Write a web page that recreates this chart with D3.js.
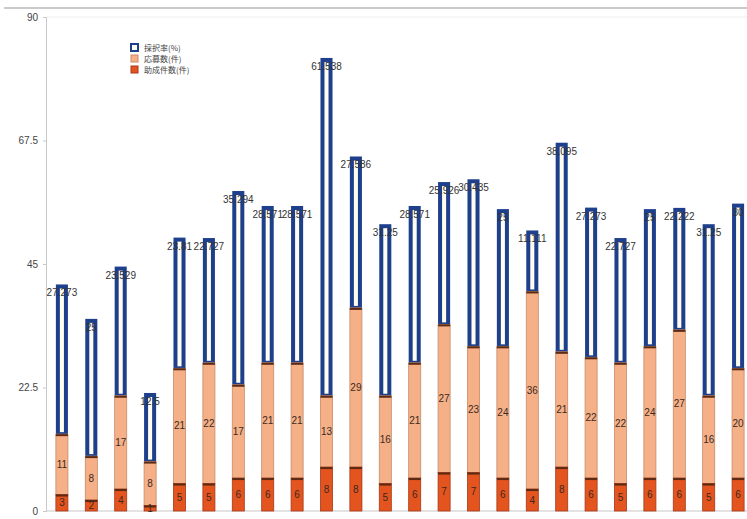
<!DOCTYPE html>
<html>
<head>
<meta charset="utf-8">
<script src="https://cdn.jsdelivr.net/npm/d3@7"></script>
<style>
  html, body { margin: 0; padding: 0; background: #fff; overflow: hidden; }
  svg { display: block; font-family: "Liberation Sans", Arial, sans-serif; }
  .jp { font-family: "Noto Sans CJK JP", sans-serif; }
</style>
</head>
<body>
<div id="chart"></div>
<script>
(function() {
  var width = 747;
  var height = 519;

  // Data
  var years = ['1996', '1997', '1998', '1999', '2000', '2001', '2002', '2003', '2004', '2005', '2006', '2007',
    '2008', '2009', '2010', '2011', '2012', '2013', '2014', '2015', '2016', '2017', '2018', '2019'];
  var grants = [3, 2, 4, 1, 5, 5, 6, 6, 6, 8, 8, 5, 6, 7, 7, 6, 4, 8, 6, 5, 6, 6, 5, 6];          // 助成件数(件)
  var applications = [11, 8, 17, 8, 21, 22, 17, 21, 21, 13, 29, 16, 21, 27, 23, 24, 36, 21, 22, 22, 24, 27, 16, 20]; // 応募数(件)
  var rates = [27.273, 25, 23.529, 12.5, 23.81, 22.727, 35.294, 28.571, 28.571, 61.538, 27.586, 31.25,
    28.571, 25.926, 30.435, 25, 11.111, 38.095, 27.273, 22.727, 25, 22.222, 31.25, 30];      // 採択率(%)
  var yTicks = [0, 22.5, 45, 67.5, 90];
  var legendLabels = ['採択率(%)', '応募数(件)', '助成件数(件)'];

  var colors = { rate: '#1d3f8c', rateFill: '#fffdf0', apps: '#f6b088', grants: '#e4541e', edge: '#5a2a14' };

  var svg = d3.select('#chart').append('svg').attr('width', width).attr('height', height);

  var x = d3.scaleBand().domain(years).range([50, 750]).paddingInner(0.59).paddingOuter(0.2);
  var y = d3.scaleLinear().domain([0, 90]).range([511, 17]);

  // outer chart border
  svg.append('line').attr('x1', 4).attr('x2', width).attr('y1', 8).attr('y2', 8)
    .attr('stroke', '#b8b8b8').attr('stroke-width', 1.5);
  svg.append('line').attr('x1', 46).attr('x2', width).attr('y1', 17).attr('y2', 17)
    .attr('stroke', '#eeeeee');

  // y axis
  var yAxis = svg.append('g').attr('transform', 'translate(46,0)')
    .call(d3.axisLeft(y).tickValues(yTicks).tickSize(3).tickFormat(function(d) { return d; }));
  yAxis.select('.domain').attr('stroke', '#c8c8c8');
  yAxis.selectAll('.tick line').attr('stroke', '#c8c8c8');
  yAxis.selectAll('text').attr('font-size', 10).attr('fill', '#444').attr('x', -8);

  // x axis (labels sit partly below the picture edge, as in the source)
  var xAxis = svg.append('g').attr('transform', 'translate(0,511)')
    .call(d3.axisBottom(x).tickSize(0).tickPadding(7));
  xAxis.select('.domain').attr('stroke', '#c8c8c8').attr('d', 'M46,0H' + width);
  xAxis.selectAll('text').attr('font-size', 10).attr('fill', '#444').attr('dy', '0.9em');

  var rows = years.map(function(yr, i) {
    return { year: yr, grants: grants[i], apps: applications[i], rate: rates[i] };
  });

  var bars = svg.append('g').selectAll('.bar').data(rows).enter().append('g').attr('class', 'bar');
  var bw = x.bandwidth();

  // top segment: rate, thick blue outline
  bars.append('rect')
    .attr('x', function(d) { return x(d.year) + 2; })
    .attr('y', function(d) { return y(d.grants + d.apps + d.rate) + 2; })
    .attr('width', bw - 4)
    .attr('height', function(d) { return y(d.grants + d.apps) - y(d.grants + d.apps + d.rate) - 2; })
    .attr('fill', colors.rateFill)
    .attr('stroke', colors.rate)
    .attr('stroke-width', 4);

  // middle segment: applications
  bars.append('rect')
    .attr('x', function(d) { return x(d.year); })
    .attr('y', function(d) { return y(d.grants + d.apps); })
    .attr('width', bw)
    .attr('height', function(d) { return y(d.grants) - y(d.grants + d.apps); })
    .attr('fill', colors.apps)
    .attr('stroke', '#c98a66')
    .attr('stroke-width', 0.8);

  // bottom segment: grants
  bars.append('rect')
    .attr('x', function(d) { return x(d.year); })
    .attr('y', function(d) { return y(d.grants); })
    .attr('width', bw)
    .attr('height', function(d) { return y(0) - y(d.grants); })
    .attr('fill', colors.grants)
    .attr('stroke', '#a5391a')
    .attr('stroke-width', 0.8);

  // dark separators on top of orange and red segments
  bars.append('line')
    .attr('x1', function(d) { return x(d.year); })
    .attr('x2', function(d) { return x(d.year) + bw; })
    .attr('y1', function(d) { return y(d.grants + d.apps) + 1; })
    .attr('y2', function(d) { return y(d.grants + d.apps) + 1; })
    .attr('stroke', colors.edge).attr('stroke-width', 2);
  bars.append('line')
    .attr('x1', function(d) { return x(d.year); })
    .attr('x2', function(d) { return x(d.year) + bw; })
    .attr('y1', function(d) { return y(d.grants) + 1; })
    .attr('y2', function(d) { return y(d.grants) + 1; })
    .attr('stroke', colors.edge).attr('stroke-width', 2);

  // labels
  var labelFill = '#3a2a22';
  bars.append('text')
    .attr('x', function(d) { return x(d.year) + bw / 2; })
    .attr('y', function(d) { return (y(0) + y(d.grants)) / 2 + 3.5; })
    .attr('text-anchor', 'middle').attr('font-size', 10).attr('fill', labelFill)
    .text(function(d) { return d.grants; });
  bars.append('text')
    .attr('x', function(d) { return x(d.year) + bw / 2; })
    .attr('y', function(d) { return (y(d.grants) + y(d.grants + d.apps)) / 2 + 3.5; })
    .attr('text-anchor', 'middle').attr('font-size', 10).attr('fill', labelFill)
    .text(function(d) { return d.apps; });
  bars.append('text')
    .attr('x', function(d) { return x(d.year) + bw / 2; })
    .attr('y', function(d) { return y(d.grants + d.apps + d.rate) + 12; })
    .attr('text-anchor', 'middle').attr('font-size', 10).attr('fill', '#333')
    .text(function(d) { return d.rate; });

  // legend
  var legend = svg.append('g').attr('transform', 'translate(130,43)');
  var legendItem = legend.selectAll('.legend').data(legendLabels).enter()
    .append('g').attr('class', 'legend')
    .attr('transform', function(d, i) { return 'translate(0,' + (i * 11) + ')'; });
  legendItem.append('rect')
    .attr('x', 1).attr('y', 1).attr('width', 7).attr('height', 7)
    .attr('fill', function(d, i) { return [colors.rateFill, colors.apps, colors.grants][i]; })
    .attr('stroke', function(d, i) { return [colors.rate, '#c98a66', '#a5391a'][i]; })
    .attr('stroke-width', function(d, i) { return i === 0 ? 2 : 1; });
  legendItem.append('text')
    .attr('class', 'jp')
    .attr('x', 14).attr('y', 8)
    .attr('font-size', 8).attr('fill', '#444')
    .text(function(d) { return d; });
}).call(this);
</script>
</body>
</html>
